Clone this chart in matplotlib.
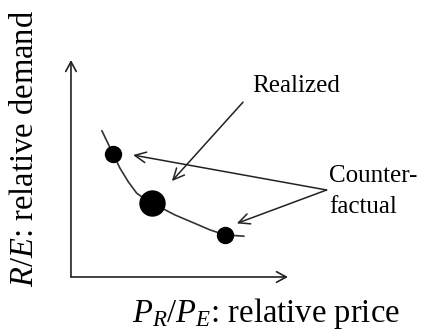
import matplotlib
matplotlib.use('Agg')
import matplotlib.pyplot as plt

plt.rcParams['font.family'] = 'Liberation Serif'
plt.rcParams['mathtext.fontset'] = 'custom'
plt.rcParams['mathtext.rm'] = 'Liberation Serif'
plt.rcParams['mathtext.it'] = 'Liberation Serif:italic'

# demand curve (axes run 0..10 on both sides)
curve_x = [1.41, 1.95, 2.26, 2.64, 3.03, 3.40, 3.75, 4.79, 5.71, 6.41, 7.10, 8.00]
curve_y = [6.77, 5.65, 5.01, 4.39, 3.86, 3.60, 3.40, 2.86, 2.47, 2.17, 1.94, 1.88]

# points on the curve
realized = (3.75, 3.40)
counterfactual_x = [1.95, 7.10]
counterfactual_y = [5.65, 1.94]

# arrow targets
realized_tip = (4.65, 4.42)
cf_tips = [(2.86, 5.62), (7.64, 2.47)]

fig = plt.figure(figsize=(4.25, 3.36), dpi=100)
ax = fig.add_axes([0.167, 0.1756, 0.5106, 0.6458])
ax.set_xlim(0, 10)
ax.set_ylim(0, 10)
ax.axis('off')

ink = '#222222'

# axes with arrow heads
axis_arrow = dict(arrowstyle='->,head_length=0.7,head_width=0.38', color=ink, lw=1.2,
                  shrinkA=0, shrinkB=0)
ax.annotate('', xy=(1, 0), xytext=(0, 0), xycoords='axes fraction', arrowprops=axis_arrow)
ax.annotate('', xy=(0, 1), xytext=(0, 0), xycoords='axes fraction', arrowprops=axis_arrow)

ax.plot(curve_x, curve_y, color='#333333', lw=1.2, solid_capstyle='butt')
ax.plot(counterfactual_x, counterfactual_y, 'o', color='black', markersize=11.5)
ax.plot(*realized, 'o', color='black', markersize=18)

pointer = dict(arrowstyle='->,head_length=0.8,head_width=0.38', color=ink, lw=1.1,
               shrinkA=0, shrinkB=0)
ax.text(10.39, 8.54, 'Realized', ha='center', va='baseline', fontsize=18, clip_on=False)
ax.annotate('', xy=realized_tip, xytext=(7.93, 8.06), arrowprops=pointer, annotation_clip=False)
for tip in cf_tips:
    ax.annotate('', xy=tip, xytext=(11.78, 4.01), arrowprops=pointer, annotation_clip=False)
ax.text(11.89, 4.39, 'Counter-', ha='left', va='baseline', fontsize=18, clip_on=False)
ax.text(11.89, 2.95, 'factual', ha='left', va='baseline', fontsize=18, clip_on=False)

fig.text(0.0588, 0.5595, '$R/E$: relative demand', rotation=90, ha='center', va='center',
         fontsize=23.5)
fig.text(0.626, 0.0417, '$P_R/P_E$: relative price', ha='center', va='baseline', fontsize=23.5)

fig.savefig('out.png', dpi=100)
